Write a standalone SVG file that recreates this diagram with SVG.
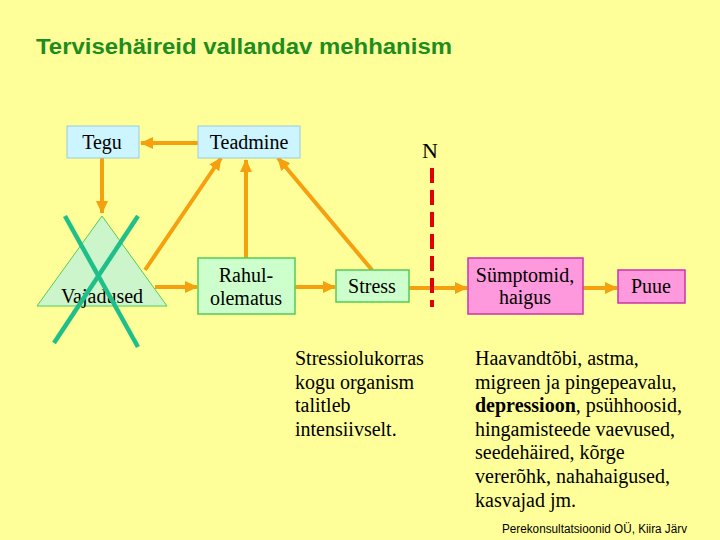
<svg xmlns="http://www.w3.org/2000/svg" width="720" height="540" viewBox="0 0 720 540">
<style>
text.c{text-anchor:middle}
.blue{fill:#ccf5ff;stroke:#99ccdd;stroke-width:1}
.green{fill:#ccffcc;stroke:#55cc55;stroke-width:1.5}
.pink{fill:#ff99dd;stroke:#cc33aa;stroke-width:1.5}
.arr{stroke:#f5a00f;stroke-width:4;fill:none}
</style>
<defs>
<marker id="ah" markerUnits="userSpaceOnUse" markerWidth="14" markerHeight="14" refX="12" refY="7" orient="auto">
<path d="M0,1 L13,7 L0,13 Z" fill="#f5a00f"/>
</marker>
</defs>
<rect width="720" height="540" fill="#ffff99"/>
<text x="36" y="54" font-family="Liberation Sans, Arial, sans-serif" font-size="22" font-weight="bold" fill="#1e8c1e" textLength="416" lengthAdjust="spacingAndGlyphs">Tervisehäireid vallandav mehhanism</text>

<g id="connectors">
<line class="arr" x1="198" y1="143" x2="141" y2="143" marker-end="url(#ah)"/>
<line class="arr" x1="102" y1="158" x2="102" y2="213" marker-end="url(#ah)"/>
<line class="arr" x1="145" y1="270" x2="221" y2="158" marker-end="url(#ah)"/>
<line class="arr" x1="155" y1="287" x2="197" y2="287" marker-end="url(#ah)"/>
<line class="arr" x1="246" y1="258" x2="246" y2="160" marker-end="url(#ah)"/>
<line class="arr" x1="372" y1="270" x2="278" y2="158" marker-end="url(#ah)"/>
<line class="arr" x1="295" y1="287" x2="335" y2="287" marker-end="url(#ah)"/>
<line class="arr" x1="409" y1="288" x2="467" y2="288" marker-end="url(#ah)"/>
<line class="arr" x1="583" y1="288" x2="617" y2="288" marker-end="url(#ah)"/>
</g>

<g font-family="Liberation Serif, serif" font-size="20" fill="#000">
<g id="Tegu"><rect class="blue" x="67" y="126" width="72" height="32"/><text class="c" x="102" y="149">Tegu</text></g>
<g id="Teadmine"><rect class="blue" x="198" y="126" width="102" height="32"/><text class="c" x="249" y="149">Teadmine</text></g>
<g id="Vajadused">
<polygon points="102,216 37,306 167,306" fill="#ccf5cc" stroke="#55cc55" stroke-width="1"/>
<text class="c" x="102" y="303">Vajadused</text>
<line x1="65" y1="216" x2="138" y2="347" stroke="#1fbf8a" stroke-width="4.5"/>
<line x1="138" y1="216" x2="54" y2="343" stroke="#1fbf8a" stroke-width="4.5"/>
</g>
<g id="Rahulolematus"><rect class="green" x="198" y="258" width="97" height="56"/><text class="c" x="246" y="282">Rahul-</text><text class="c" x="246" y="305">olematus</text></g>
<g id="Stress"><rect class="green" x="336" y="270" width="73" height="32"/><text class="c" x="372" y="293">Stress</text></g>
<g id="N">
<text class="c" x="430" y="158" font-size="22">N</text>
<line x1="432" y1="168" x2="432" y2="307" stroke="#e00000" stroke-width="4" stroke-dasharray="15,7"/>
</g>
<g id="Symptomid"><rect class="pink" x="468" y="258" width="115" height="56"/><text class="c" x="525" y="282">Sümptomid,</text><text class="c" x="525" y="304">haigus</text></g>
<g id="Puue"><rect class="pink" x="618" y="270" width="67" height="33"/><text class="c" x="651" y="293">Puue</text></g>

<g id="notes">
<text x="295" y="365">Stressiolukorras</text>
<text x="295" y="389">kogu organism</text>
<text x="295" y="412">talitleb</text>
<text x="295" y="436">intensiivselt.</text>
<text x="475" y="365">Haavandtõbi, astma,</text>
<text x="475" y="389">migreen ja pingepeavalu,</text>
<text x="475" y="412"><tspan font-weight="bold">depressioon</tspan>, psühhoosid,</text>
<text x="475" y="436">hingamisteede vaevused,</text>
<text x="475" y="459">seedehäired, kõrge</text>
<text x="475" y="483">vererõhk, nahahaigused,</text>
<text x="475" y="507">kasvajad jm.</text>
</g>
</g>
<text x="502" y="533" font-family="Liberation Sans, Arial, sans-serif" font-size="12" textLength="185" lengthAdjust="spacingAndGlyphs">Perekonsultatsioonid OÜ, Kiira Järv</text>
</svg>
